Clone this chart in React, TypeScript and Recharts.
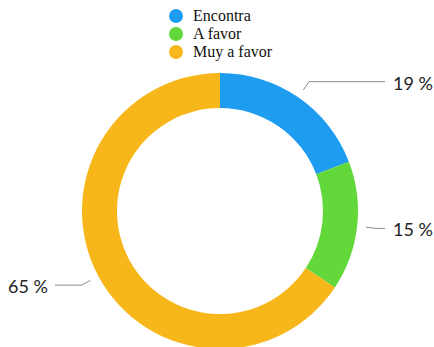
import { PieChart, Pie, Cell, Legend } from 'recharts';

const categories = ['Encontra', 'A favor', 'Muy a favor'];
const shares = [19, 15, 65];
const COLORS = ['#1d9cf0', '#62d83b', '#f7b71a'];

const data = categories.map((name, i) => ({ name, value: shares[i] }));

const RADIAN = Math.PI / 180;

function renderLabel(props: any) {
  const { cx, cy, midAngle, outerRadius, value } = props;
  const cos = Math.cos(-midAngle * RADIAN);
  const sin = Math.sin(-midAngle * RADIAN);
  const r1 = outerRadius + 9;
  const r2 = outerRadius + 19;
  const sx = cx + r1 * cos;
  const sy = cy + r1 * sin;
  const mx = cx + r2 * cos;
  const my = cy + r2 * sin;
  const right = cos >= 0;
  const ex = right ? cx + 165 : cx - 165;
  const tx = right ? ex + 8 : ex - 7;
  return (
    <g>
      <polyline points={`${sx},${sy} ${mx},${my} ${ex},${my}`} fill="none" stroke="#8a8a8a" strokeWidth={1} />
      <text
        x={tx}
        y={my + 1}
        textAnchor={right ? 'start' : 'end'}
        dominantBaseline="central"
        fill="#222"
        fontFamily="Lato, 'Noto Sans', sans-serif"
        fontSize={18}
      >
        {`${value} %`}
      </text>
    </g>
  );
}

function LegendBox() {
  return (
    <div style={{ fontFamily: "'Liberation Serif', serif", fontSize: 16, color: '#111' }}>
      {categories.map((c, i) => (
        <div key={c} style={{ display: 'flex', alignItems: 'center', height: 18 }}>
          <span
            style={{
              display: 'inline-block',
              width: 14,
              height: 14,
              borderRadius: 7,
              background: COLORS[i],
              marginRight: 10,
            }}
          />
          <span>{c}</span>
        </div>
      ))}
    </div>
  );
}

export default function App() {
  return (
    <div style={{ position: 'absolute', left: 0, top: 0, width: 434, height: 347, background: '#fff' }}>
      <PieChart width={434} height={347} margin={{ top: 0, right: 0, bottom: 0, left: 0 }}>
        <Legend
          content={<LegendBox />}
          wrapperStyle={{ position: 'absolute', left: 169, top: 7, width: 140 }}
        />
        <Pie
          data={data}
          dataKey="value"
          nameKey="name"
          cx={220}
          cy={211}
          innerRadius={103}
          outerRadius={138}
          startAngle={90}
          endAngle={-270}
          stroke="none"
          label={renderLabel}
          labelLine={false}
          isAnimationActive={false}
        >
          {data.map((_, i) => (
            <Cell key={i} fill={COLORS[i]} />
          ))}
        </Pie>
      </PieChart>
    </div>
  );
}
